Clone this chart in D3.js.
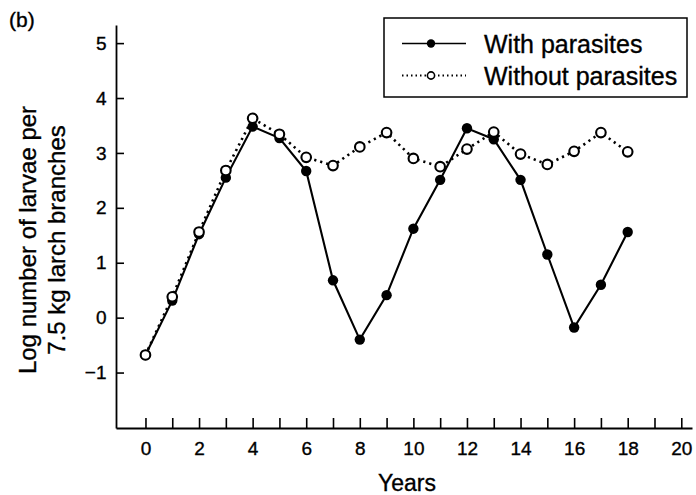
<!DOCTYPE html>
<html>
<head>
<meta charset="utf-8">
<script src="https://cdn.jsdelivr.net/npm/d3@7"></script>
<style>
  body { margin: 0; background: #fff; }
  svg { display: block; }
  svg text { font-family: "Liberation Sans", Arial, sans-serif; fill: #000; stroke: #000; stroke-width: 0.35px; }
</style>
</head>
<body>
<div id="chart"></div>
<script>

    var years = d3.range(0, 19);
    var withParasites = [-0.68, 0.31, 1.52, 2.55, 3.48, 3.27, 2.67, 0.68, -0.40, 0.41,
                         1.62, 2.51, 3.45, 3.25, 2.51, 1.15, -0.18, 0.60, 1.56];
    var withoutParasites = [-0.68, 0.38, 1.56, 2.68, 3.63, 3.34, 2.92, 2.77, 3.11, 3.37,
                            2.90, 2.75, 3.07, 3.38, 2.98, 2.79, 3.03, 3.37, 3.02];
    var seriesNames = ["With parasites", "Without parasites"];
    var xTicks = d3.range(0, 21);
    var yTicks = [-1, 0, 1, 2, 3, 4, 5];

    var width = 696,
        height = 495;

    var svg = d3.select("#chart").append("svg")
        .attr("width", width)
        .attr("height", height);

    var x = d3.scaleLinear().domain([-1.1, 20.4]).range([116, 692]);
    var y = d3.scaleLinear().domain([-2.01, 5.33]).range([428, 25]);

    // axes, ticks point inward
    var xAxis = d3.axisBottom(x)
        .tickValues(xTicks)
        .tickSizeInner(-10)
        .tickSizeOuter(0)
        .tickPadding(13.5)
        .tickFormat(function(d) { return d % 2 === 0 ? d : ""; });

    var yAxis = d3.axisLeft(y)
        .tickValues(yTicks)
        .tickSizeInner(-8)
        .tickSizeOuter(0)
        .tickPadding(9.5);

    var gx = svg.append("g")
        .attr("transform", "translate(0," + y.range()[0] + ")")
        .call(xAxis);

    var gy = svg.append("g")
        .attr("transform", "translate(" + x.range()[0] + ",0)")
        .call(yAxis);

    [gx, gy].forEach(function(g) {
        g.attr("font-family", null).attr("font-size", null);
        g.select(".domain").attr("stroke", "#000").attr("stroke-width", 1.8);
        g.selectAll(".tick line").attr("stroke", "#000").attr("stroke-width", 1.6);
        g.selectAll(".tick text").style("font-size", "19px");
    });

    // axis titles
    svg.append("text")
        .attr("x", 407)
        .attr("y", 491)
        .attr("text-anchor", "middle")
        .style("font-size", "23px")
        .text("Years");

    var yl = svg.append("text")
        .attr("transform", "translate(36,240) rotate(-90)")
        .attr("text-anchor", "middle")
        .style("font-size", "24px");
    yl.append("tspan").attr("x", 0).attr("y", 0).text("Log number of larvae per");
    yl.append("tspan").attr("x", 0).attr("y", 28.5).text("7.5 kg larch branches");

    svg.append("text")
        .attr("x", 9)
        .attr("y", 27)
        .style("font-size", "21px")
        .text("(b)");

    // lines
    var line = d3.line()
        .x(function(d) { return x(d[0]); })
        .y(function(d) { return y(d[1]); });

    var withData = years.map(function(yr, i) { return [yr, withParasites[i]]; });
    var withoutData = years.map(function(yr, i) { return [yr, withoutParasites[i]]; });

    svg.append("path")
        .datum(withoutData)
        .attr("d", line)
        .attr("fill", "none")
        .attr("stroke", "#000")
        .attr("stroke-width", 2.6)
        .attr("stroke-dasharray", "2.2,4");

    svg.append("path")
        .datum(withData)
        .attr("d", line)
        .attr("fill", "none")
        .attr("stroke", "#000")
        .attr("stroke-width", 2.1);

    svg.selectAll(".dot-with")
        .data(withData)
        .enter().append("circle")
        .attr("class", "dot-with")
        .attr("cx", function(d) { return x(d[0]); })
        .attr("cy", function(d) { return y(d[1]); })
        .attr("r", 5.2)
        .attr("fill", "#000");

    svg.selectAll(".dot-without")
        .data(withoutData)
        .enter().append("circle")
        .attr("class", "dot-without")
        .attr("cx", function(d) { return x(d[0]); })
        .attr("cy", function(d) { return y(d[1]); })
        .attr("r", 4.8)
        .attr("fill", "#fff")
        .attr("stroke", "#000")
        .attr("stroke-width", 2.1);

    // legend
    var lg = svg.append("g");

    lg.append("rect")
        .attr("x", 384)
        .attr("y", 18)
        .attr("width", 303)
        .attr("height", 79)
        .attr("fill", "#fff")
        .attr("stroke", "#000")
        .attr("stroke-width", 1.5);

    seriesNames.forEach(function(name, i) {
        var ly = i === 0 ? 43.5 : 75.5;

        lg.append("line")
            .attr("x1", 402).attr("x2", 466)
            .attr("y1", ly).attr("y2", ly)
            .attr("stroke", "#000")
            .attr("stroke-width", i === 0 ? 1.6 : 1.8)
            .attr("stroke-dasharray", i === 0 ? null : "1.5,3");

        lg.append("circle")
            .attr("cx", 431)
            .attr("cy", ly)
            .attr("r", i === 0 ? 4.2 : 3.6)
            .attr("fill", i === 0 ? "#000" : "#fff")
            .attr("stroke", "#000")
            .attr("stroke-width", i === 0 ? 0 : 1.6);

        lg.append("text")
            .attr("x", 484)
            .attr("y", ly + 9)
            .style("font-size", "25px")
            .text(name);
    });

</script>
</body>
</html>
